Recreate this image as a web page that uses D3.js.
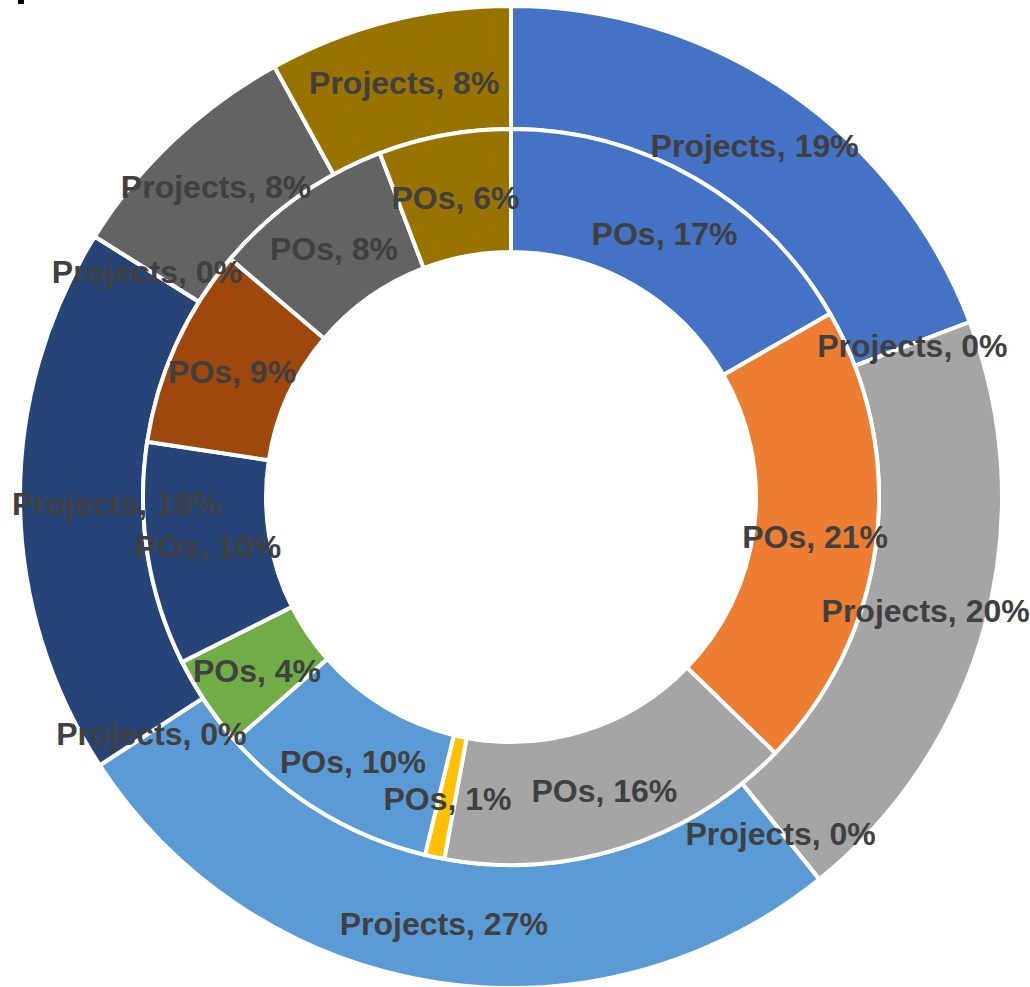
<!DOCTYPE html>
<html>
<head>
<meta charset="utf-8">
<script src="https://cdn.jsdelivr.net/npm/d3@7"></script>
<style>
  body { margin: 0; background: #fff; }
</style>
</head>
<body>
<div id="grafico"></div>
<script>
const WIDTH = 1030;
const HEIGHT = 987;

// one slice per category, same order in both rings
const colors = ["#4472C4","#ED7D31","#A5A5A5","#FFC000","#5B9BD5","#70AD47","#264478","#9E480E","#636363","#997300"];
const seriesNames = ["POs","Projects"];
const poValues = [16.7,20.55,15.65,0.85,9.75,4.1,9.8,8.8,8.0,5.8];
const projectValues = [19.2,0,20.0,0,26.6,0,18.1,0,8.1,8.0];

const cx = 511, cy = 497;
const rHole = 245, rMid = 368, rOuter = 491;

let svg = d3.select("#grafico")
    .append("svg")
    .attr("width",WIDTH)
    .attr("height",HEIGHT);

// small black mark at the top left of the original
svg.append("rect")
    .attr("x",18).attr("y",0)
    .attr("width",6).attr("height",4)
    .style("fill","black");

let pie = d3.pie().sort(null).value(d=>d);
let fmt = d3.format(".0%");

let rings = [
    {name: seriesNames[1], values: projectValues, r0: rMid, r1: rOuter},
    {name: seriesNames[0], values: poValues, r0: rHole, r1: rMid}
];

let g = svg.append("g").attr("transform","translate("+cx+","+cy+")");

rings.forEach(ring=>{
    let arc = d3.arc().innerRadius(ring.r0).outerRadius(ring.r1);
    g.append("g").selectAll("path")
        .data(pie(ring.values))
        .enter()
        .append("path")
        .attr("d",arc)
        .style("fill",(d,i)=>colors[i])
        .style("stroke","white")
        .style("stroke-width",4)
        .style("stroke-linejoin","miter");
});

rings.forEach(ring=>{
    let total = d3.sum(ring.values);
    let arc = d3.arc().innerRadius(ring.r0).outerRadius(ring.r1);
    g.append("g").selectAll("text")
        .data(pie(ring.values))
        .enter()
        .append("text")
        .attr("text-anchor","middle")
        .attr("dy","0.42em")
        .style("font-family","'Liberation Sans', Arial, sans-serif")
        .style("font-weight","bold")
        .style("font-size","32px")
        .style("fill","#404040")
        .text(d=>ring.name+", "+fmt(d.data/total))
        .each(function(d){
            let c = arc.centroid(d);
            let w = this.getComputedTextLength();
            // keep the label inside the picture like Excel does
            let x = Math.max(-cx+12+w/2, Math.min(WIDTH-cx-w/2, c[0]));
            d3.select(this).attr("x",x).attr("y",c[1]);
        });
});
</script>
</body>
</html>
